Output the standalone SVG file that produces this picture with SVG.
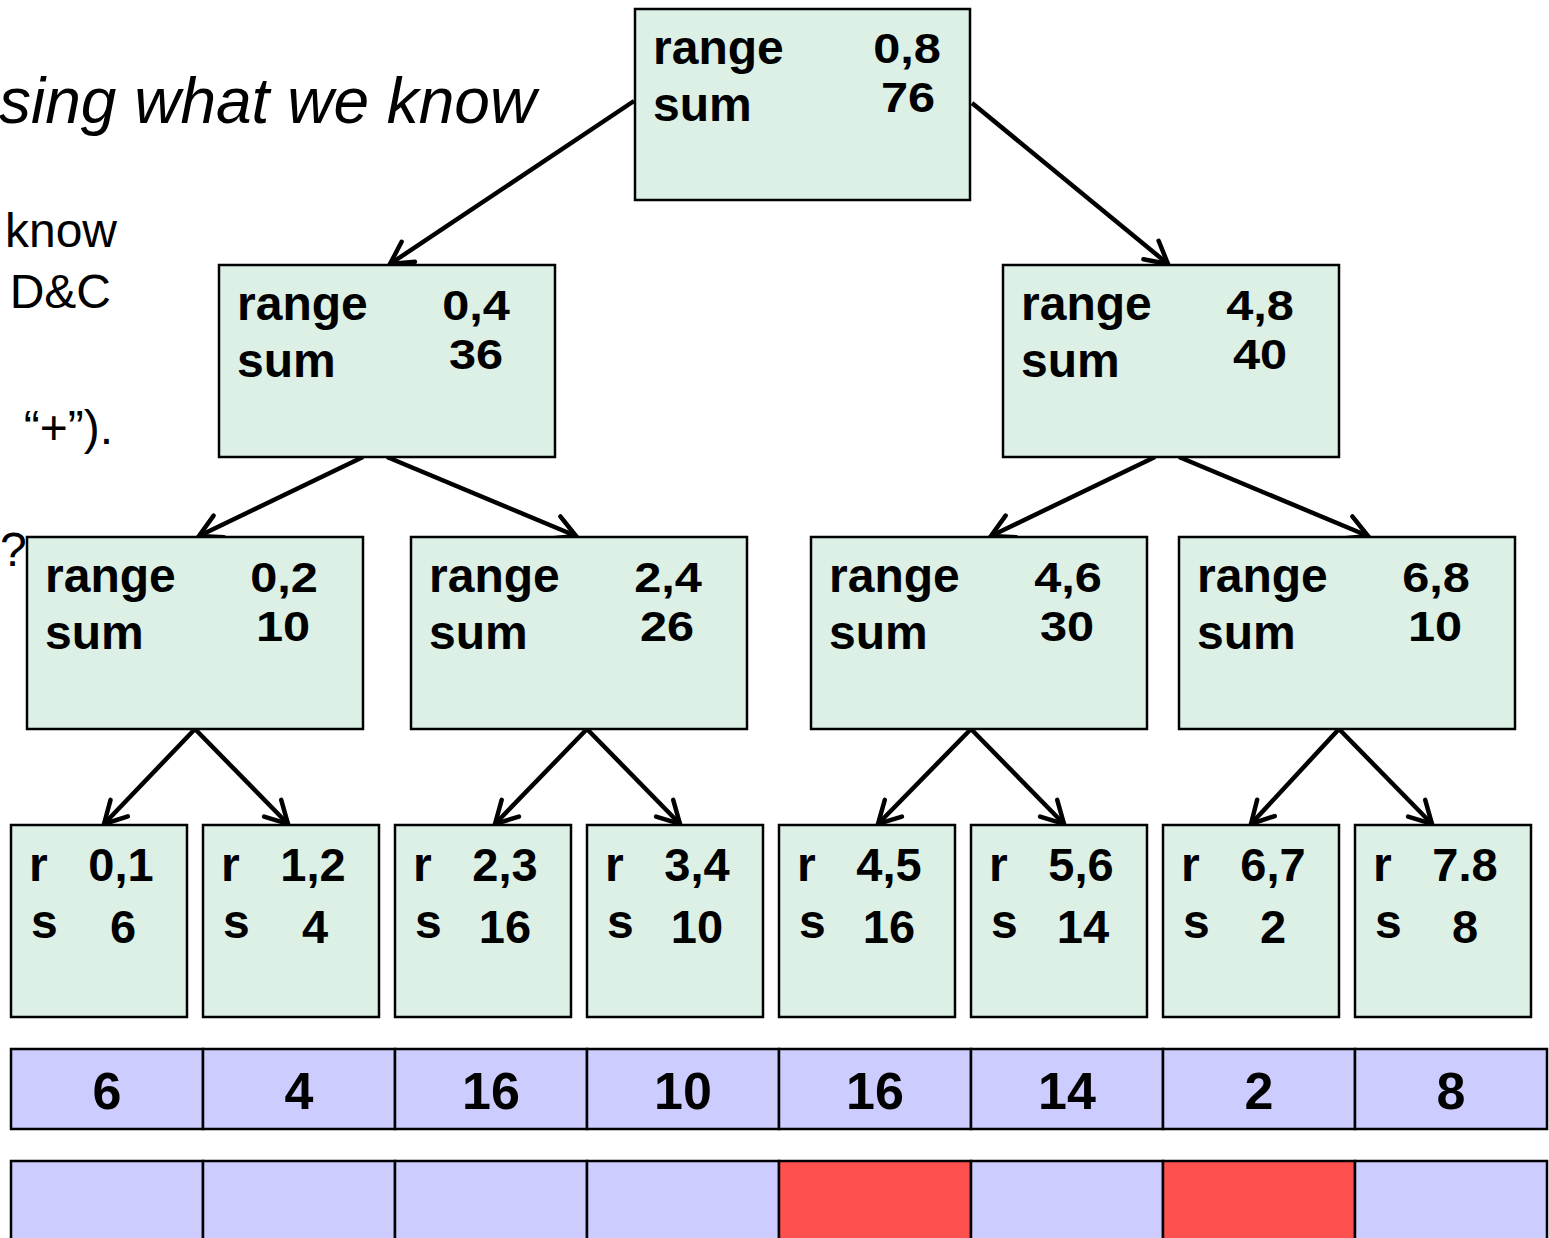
<svg xmlns="http://www.w3.org/2000/svg" width="1549" height="1238" viewBox="0 0 1549 1238" font-family="'Liberation Sans', Arial, sans-serif">
  <style>
    text { font-family: "Liberation Sans", Arial, sans-serif; fill: #000; }
    .prose { font-size: 48px; }
    .title { font-size: 64px; font-style: italic; }
    .node { fill: #DCF0E6; stroke: #000; stroke-width: 2.5; }
    .lbl { font-size: 48px; font-weight: bold; }
    .num { font-size: 42px; font-weight: bold; text-anchor: middle; }
    .lnum { font-size: 47px; font-weight: bold; text-anchor: middle; }
    .cell { fill: #CCCCFF; stroke: #000; stroke-width: 2.5; }
    .hot { fill: #FF5050; stroke: #000; stroke-width: 2.5; }
    .val { font-size: 52px; font-weight: bold; text-anchor: middle; }
    .edge { stroke: #000; stroke-width: 4.5; fill: none; marker-end: url(#head); }
  </style>
  <defs>
    <marker id="head" markerUnits="userSpaceOnUse" viewBox="0 0 30 30" markerWidth="30" markerHeight="30" refX="26" refY="15" orient="auto">
      <path d="M4,3 L26,15 L4,27" fill="none" stroke="#000" stroke-width="4.5" stroke-linecap="round" stroke-linejoin="miter"/>
    </marker>
  </defs>

  <rect width="1549" height="1238" fill="#fff"/>

  <!-- slide text on the left, clipped by the canvas edge -->
  <g id="prose">
    <text class="title" x="-1" y="123">sing what we know</text>
    <text class="prose" x="117" y="247" text-anchor="end">know</text>
    <text class="prose" x="111" y="308" text-anchor="end">D&amp;C</text>
    <text class="prose" x="113" y="444" text-anchor="end">“+”).</text>
    <text class="prose" x="0" y="566">?</text>
  </g>

  <!-- tree edges -->
  <g id="connectors">
    <line class="edge" x1="634" y1="101" x2="390" y2="264"/>
    <line class="edge" x1="972" y1="103" x2="1168" y2="264"/>
    <line class="edge" x1="363" y1="457" x2="199" y2="536"/>
    <line class="edge" x1="387" y1="457" x2="576" y2="536"/>
    <line class="edge" x1="1155" y1="457" x2="991" y2="536"/>
    <line class="edge" x1="1179" y1="457" x2="1368" y2="536"/>
    <line class="edge" x1="195" y1="729" x2="104" y2="824"/>
    <line class="edge" x1="195" y1="729" x2="288" y2="824"/>
    <line class="edge" x1="587" y1="729" x2="495" y2="824"/>
    <line class="edge" x1="587" y1="729" x2="680" y2="824"/>
    <line class="edge" x1="971" y1="729" x2="878" y2="824"/>
    <line class="edge" x1="971" y1="729" x2="1064" y2="824"/>
    <line class="edge" x1="1339" y1="729" x2="1251" y2="824"/>
    <line class="edge" x1="1339" y1="729" x2="1432" y2="824"/>
  </g>

  <!-- root -->
  <g id="n-0-8">
    <rect class="node" x="635" y="9" width="335" height="191"/>
    <text class="lbl" x="653" y="64">range</text>
    <text class="lbl" x="653" y="121">sum</text>
    <text class="num" transform="translate(907,63) scale(1.16,1)">0,8</text>
    <text class="num" transform="translate(908,112) scale(1.16,1)">76</text>
  </g>

  <!-- level 1 -->
  <g id="n-0-4">
    <rect class="node" x="219" y="265" width="336" height="192"/>
    <text class="lbl" x="237" y="320">range</text>
    <text class="lbl" x="237" y="377">sum</text>
    <text class="num" transform="translate(476,320) scale(1.16,1)">0,4</text>
    <text class="num" transform="translate(476,369) scale(1.16,1)">36</text>
  </g>
  <g id="n-4-8">
    <rect class="node" x="1003" y="265" width="336" height="192"/>
    <text class="lbl" x="1021" y="320">range</text>
    <text class="lbl" x="1021" y="377">sum</text>
    <text class="num" transform="translate(1260,320) scale(1.16,1)">4,8</text>
    <text class="num" transform="translate(1260,369) scale(1.16,1)">40</text>
  </g>

  <!-- level 2 -->
  <g id="n-0-2">
    <rect class="node" x="27" y="537" width="336" height="192"/>
    <text class="lbl" x="45" y="592">range</text>
    <text class="lbl" x="45" y="649">sum</text>
    <text class="num" transform="translate(284,592) scale(1.16,1)">0,2</text>
    <text class="num" transform="translate(283,641) scale(1.16,1)">10</text>
  </g>
  <g id="n-2-4">
    <rect class="node" x="411" y="537" width="336" height="192"/>
    <text class="lbl" x="429" y="592">range</text>
    <text class="lbl" x="429" y="649">sum</text>
    <text class="num" transform="translate(668,592) scale(1.16,1)">2,4</text>
    <text class="num" transform="translate(667,641) scale(1.16,1)">26</text>
  </g>
  <g id="n-4-6">
    <rect class="node" x="811" y="537" width="336" height="192"/>
    <text class="lbl" x="829" y="592">range</text>
    <text class="lbl" x="829" y="649">sum</text>
    <text class="num" transform="translate(1068,592) scale(1.16,1)">4,6</text>
    <text class="num" transform="translate(1067,641) scale(1.16,1)">30</text>
  </g>
  <g id="n-6-8">
    <rect class="node" x="1179" y="537" width="336" height="192"/>
    <text class="lbl" x="1197" y="592">range</text>
    <text class="lbl" x="1197" y="649">sum</text>
    <text class="num" transform="translate(1436,592) scale(1.16,1)">6,8</text>
    <text class="num" transform="translate(1435,641) scale(1.16,1)">10</text>
  </g>

  <!-- leaves -->
  <g id="n-0-1">
    <rect class="node" x="11" y="825" width="176" height="192"/>
    <text class="lbl" x="29" y="881">r</text>
    <text class="lbl" x="31" y="938">s</text>
    <text class="lnum" x="121" y="881">0,1</text>
    <text class="lnum" x="123" y="943">6</text>
  </g>
  <g id="n-1-2">
    <rect class="node" x="203" y="825" width="176" height="192"/>
    <text class="lbl" x="221" y="881">r</text>
    <text class="lbl" x="223" y="938">s</text>
    <text class="lnum" x="313" y="881">1,2</text>
    <text class="lnum" x="315" y="943">4</text>
  </g>
  <g id="n-2-3">
    <rect class="node" x="395" y="825" width="176" height="192"/>
    <text class="lbl" x="413" y="881">r</text>
    <text class="lbl" x="415" y="938">s</text>
    <text class="lnum" x="505" y="881">2,3</text>
    <text class="lnum" x="505" y="943">16</text>
  </g>
  <g id="n-3-4">
    <rect class="node" x="587" y="825" width="176" height="192"/>
    <text class="lbl" x="605" y="881">r</text>
    <text class="lbl" x="607" y="938">s</text>
    <text class="lnum" x="697" y="881">3,4</text>
    <text class="lnum" x="697" y="943">10</text>
  </g>
  <g id="n-4-5">
    <rect class="node" x="779" y="825" width="176" height="192"/>
    <text class="lbl" x="797" y="881">r</text>
    <text class="lbl" x="799" y="938">s</text>
    <text class="lnum" x="889" y="881">4,5</text>
    <text class="lnum" x="889" y="943">16</text>
  </g>
  <g id="n-5-6">
    <rect class="node" x="971" y="825" width="176" height="192"/>
    <text class="lbl" x="989" y="881">r</text>
    <text class="lbl" x="991" y="938">s</text>
    <text class="lnum" x="1081" y="881">5,6</text>
    <text class="lnum" x="1083" y="943">14</text>
  </g>
  <g id="n-6-7">
    <rect class="node" x="1163" y="825" width="176" height="192"/>
    <text class="lbl" x="1181" y="881">r</text>
    <text class="lbl" x="1183" y="938">s</text>
    <text class="lnum" x="1273" y="881">6,7</text>
    <text class="lnum" x="1273" y="943">2</text>
  </g>
  <g id="n-7-8">
    <rect class="node" x="1355" y="825" width="176" height="192"/>
    <text class="lbl" x="1373" y="881">r</text>
    <text class="lbl" x="1375" y="938">s</text>
    <text class="lnum" x="1465" y="881">7.8</text>
    <text class="lnum" x="1465" y="943">8</text>
  </g>

  <!-- input array -->
  <g id="input">
    <rect class="cell" x="11" y="1049" width="192" height="80"/>
    <rect class="cell" x="203" y="1049" width="192" height="80"/>
    <rect class="cell" x="395" y="1049" width="192" height="80"/>
    <rect class="cell" x="587" y="1049" width="192" height="80"/>
    <rect class="cell" x="779" y="1049" width="192" height="80"/>
    <rect class="cell" x="971" y="1049" width="192" height="80"/>
    <rect class="cell" x="1163" y="1049" width="192" height="80"/>
    <rect class="cell" x="1355" y="1049" width="192" height="80"/>
    <text class="val" x="107" y="1109">6</text>
    <text class="val" x="299" y="1109">4</text>
    <text class="val" x="491" y="1109">16</text>
    <text class="val" x="683" y="1109">10</text>
    <text class="val" x="875" y="1109">16</text>
    <text class="val" x="1067" y="1109">14</text>
    <text class="val" x="1259" y="1109">2</text>
    <text class="val" x="1451" y="1109">8</text>
  </g>

  <!-- output array -->
  <g id="output">
    <rect class="cell" x="11" y="1161" width="192" height="100"/>
    <rect class="cell" x="203" y="1161" width="192" height="100"/>
    <rect class="cell" x="395" y="1161" width="192" height="100"/>
    <rect class="cell" x="587" y="1161" width="192" height="100"/>
    <rect class="hot" x="779" y="1161" width="192" height="100"/>
    <rect class="cell" x="971" y="1161" width="192" height="100"/>
    <rect class="hot" x="1163" y="1161" width="192" height="100"/>
    <rect class="cell" x="1355" y="1161" width="192" height="100"/>
  </g>
</svg>
